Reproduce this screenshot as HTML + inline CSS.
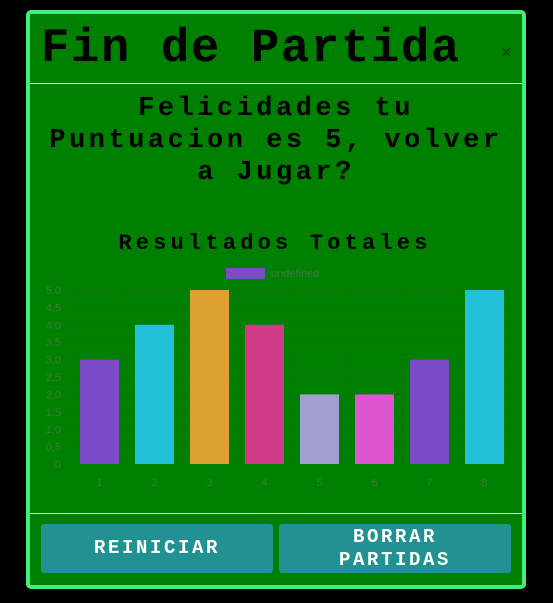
<!DOCTYPE html>
<html><head><meta charset="utf-8"><style>
body{margin:0;width:553px;height:603px;background:#000;overflow:hidden;font-family:"Liberation Mono",monospace;}
.modal{position:absolute;left:26px;top:10px;width:492px;height:571px;background:#008000;border:4px solid #40f07c;border-radius:5px;}
.title{position:absolute;left:11px;top:11px;font-size:47px;font-weight:bold;letter-spacing:1.8px;color:#000;line-height:50px;}
.close{position:absolute;right:10px;top:28px;font-size:20px;color:#0a4a0a;font-family:"Liberation Sans",sans-serif;}
.hr{position:absolute;left:0;right:0;height:1px;background:#cfe8cf;}
.msg{position:absolute;left:0;right:0;top:79px;text-align:center;font-size:27px;font-weight:bold;letter-spacing:3.5px;line-height:32px;color:#000;}
.btn{position:absolute;top:510px;height:49px;background:#219191;border-radius:3px;color:#fff;font-weight:bold;font-size:19px;letter-spacing:2.6px;display:flex;align-items:center;justify-content:center;text-align:center;line-height:23px;}
</style></head><body>
<div class="modal">
<div class="title">Fin de Partida</div>
<div class="close">×</div>
<div class="hr" style="top:69px"></div>
<div class="msg">Felicidades tu<br>Puntuacion es 5, volver<br>a Jugar?</div>
<div class="hr" style="top:499px"></div>
<div class="btn" style="left:11px;width:232px;top:510px">REINICIAR</div>
<div class="btn" style="left:249px;width:232px;top:510px">BORRAR<br>PARTIDAS</div>
</div>
<svg id="chart" width="553" height="603" style="position:absolute;left:0;top:0">
<text x="275" y="249" text-anchor="middle" font-family="Liberation Mono,monospace" font-weight="bold" font-size="22" letter-spacing="4.2" fill="#000">Resultados Totales</text>
<rect x="226" y="268" width="39" height="11" fill="#7b4bc8"/>
<text x="271" y="277" font-family="Liberation Sans,sans-serif" font-size="11" fill="#3e7a3e">undefined</text>
</svg>
<script>
const categories=["1","2","3","4","5","6","7","8"];
const values=[3,4,5,4,2,2,3,5];
const colors=["#7b4bc8","#22bfd8","#dba030","#d03c88","#a0a0d0","#dd55d0","#7b4bc8","#22bfd8"];
const ticks=[0,0.5,1,1.5,2,2.5,3,3.5,4,4.5,5];
const tickLabels=["0","0,5","1,0","1,5","2,0","2,5","3,0","3,5","4,0","4,5","5,0"];
const svg=document.getElementById('chart');const NS="http://www.w3.org/2000/svg";
const x0=72,x1=512,y0=464,y1=290,yMax=5;
const y=v=>y0-(v/yMax)*(y0-y1);
const band=(x1-x0)/categories.length;
const xc=i=>x0+band*(i+0.5);
function mk(t,a){const e=document.createElementNS(NS,t);for(const k in a)e.setAttribute(k,a[k]);svg.appendChild(e);return e;}
ticks.forEach((t,i)=>{
 const l=mk('line',{x1:x0-4,x2:x1,y1:y(t),y2:y(t),stroke:'#0b740b','stroke-width':1});
 
 
 const tx=mk('text',{x:x0-11,y:y(t)+4,'text-anchor':'end','font-family':'Liberation Sans,sans-serif','font-size':11,fill:'#3e7a3e'});
 tx.textContent=tickLabels[i];
 
 
});
for(let i=0;i<=categories.length;i++){
 const l=mk('line',{x1:x0+band*i,x2:x0+band*i,y1:y1,y2:y0+4,stroke:'#0b740b','stroke-width':1});
 
 
}
categories.forEach((c,i)=>{
 const bw=39;
 const r=mk('rect',{x:xc(i)-bw/2,y:y(values[i]),width:bw,height:y0-y(values[i]),fill:colors[i]});
 
 
 const tx=mk('text',{x:xc(i),y:486,'text-anchor':'middle','font-family':'Liberation Sans,sans-serif','font-size':11,fill:'#3e7a3e'});
 tx.textContent=c;
 
 
});
</script>
</body></html>
